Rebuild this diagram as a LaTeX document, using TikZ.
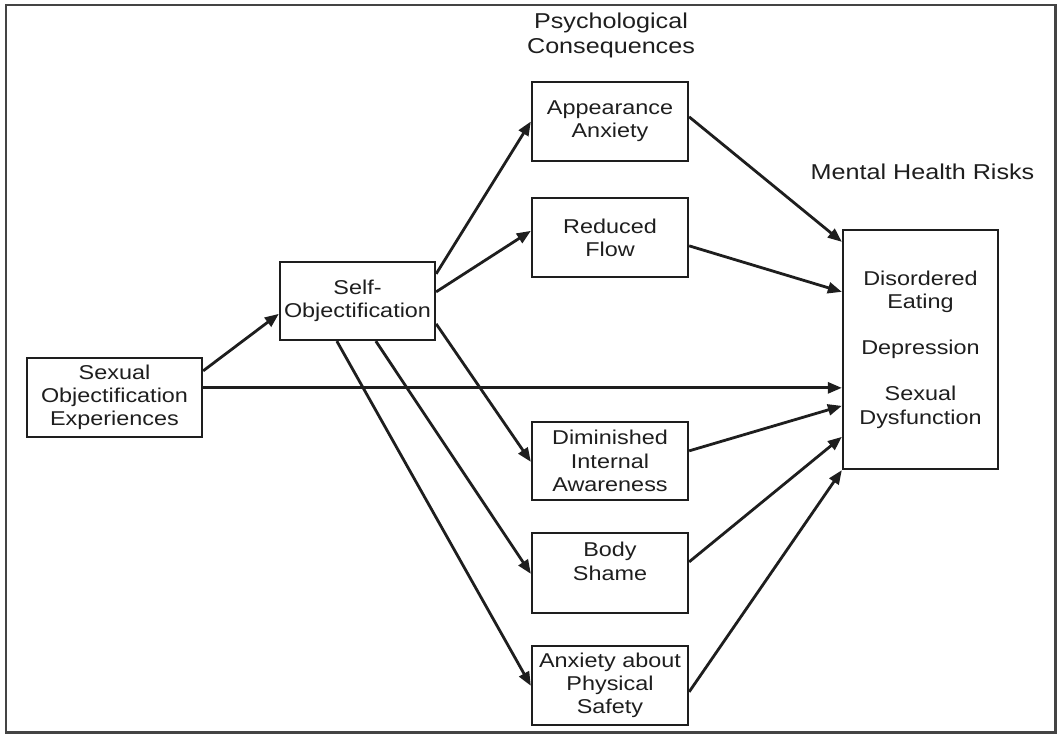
\documentclass[tikz,border=0pt]{standalone}
\usepackage{fontspec}
\setmainfont{Liberation Sans}[FakeStretch=1.17]
\usetikzlibrary{arrows.meta,calc}
\definecolor{ink}{HTML}{1E1E1E}
\definecolor{framec}{HTML}{444444}
\begin{document}
\begin{tikzpicture}[x=1pt,y=-1pt,
  box/.style={draw=ink, line width=2.3pt, inner sep=0pt, align=center,
    text=ink, font=\fontsize{20}{23.3}\selectfont},
  title/.style={inner sep=0pt, align=center, text=ink,
    font=\fontsize{21.5}{25}\selectfont},
  arr/.style={draw=ink, line width=2.8pt, -{Triangle[length=14pt,width=11pt]}},
  frame/.style={draw=framec, line width=2.3pt}]
\useasboundingbox (0,0) rectangle (1057,734);
\draw[frame] (6,5) rectangle (1055.5,732.5);

\node[title] (pc) at (611,35.5) {Psychological\\Consequences};
\node[title] (mhr) at (922.5,172) {Mental Health Risks};

\node[box, minimum width=175pt, minimum height=79pt] (soe) at (114.5,397.5)
  {Sexual\\Objectification\\Experiences};
\node[box, minimum width=155pt, minimum height=78pt] (so) at (357.5,301)
  {Self-\\Objectification};
\node[box, minimum width=156pt, minimum height=79pt] (aa) at (610,121.5)
  {Appearance\\Anxiety};
\node[box, minimum width=156pt, minimum height=79pt] (rf) at (610,237.5)
  {Reduced\\Flow};
\node[box, minimum width=156pt, minimum height=78pt] (dia) at (610,461)
  {Diminished\\Internal\\Awareness};
\node[box, minimum width=156pt, minimum height=80pt] (bs) at (610,573)
  {Body\\Shame\\\mbox{}};
\node[box, minimum width=156pt, minimum height=79pt] (aps) at (610,685.5)
  {Anxiety about\\Physical\\Safety};
\node[box, minimum width=155pt, minimum height=239pt] (mh) at (920.5,349.5)
  {Disordered\\Eating\\[23pt]Depression\\[23pt]Sexual\\Dysfunction};

\draw[arr] ($(soe.north east)+(0,14)$) -- ($(so.north west)+(0,53)$);
\draw[arr] ($(soe.north east)+(0,31)$) -- ($(mh.north west)+(0,159)$);
\draw[arr] ($(so.north east)+(0,13)$) -- (aa.west);
\draw[arr] ($(so.north east)+(0,31)$) -- ($(rf.north west)+(0,34)$);
\draw[arr] ($(so.north east)+(0,63)$) -- ($(dia.north west)+(0,41)$);
\draw[arr] ($(so.south west)+(97,0)$) -- ($(bs.north west)+(0,42)$);
\draw[arr] ($(so.south west)+(58,0)$) -- ($(aps.north west)+(0,41)$);
\draw[arr] ($(aa.north east)+(0,36)$) -- ($(mh.north west)+(0,13)$);
\draw[arr] ($(rf.north east)+(0,49)$) -- ($(mh.north west)+(0,63)$);
\draw[arr] ($(dia.north east)+(0,30)$) -- ($(mh.north west)+(0,177)$);
\draw[arr] ($(bs.north east)+(0,30)$) -- ($(mh.north west)+(0,208)$);
\draw[arr] ($(aps.north east)+(0,47)$) -- (mh.south west);
\end{tikzpicture}
\end{document}
